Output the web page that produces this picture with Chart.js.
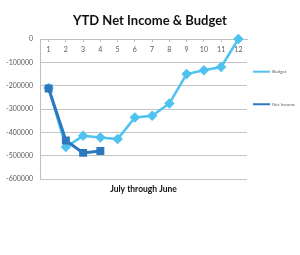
<!DOCTYPE html>
<html>
<head>
<meta charset="utf-8">
<script src="https://cdn.jsdelivr.net/npm/chart.js@4"></script>
<style>
  html, body { margin: 0; padding: 0; background: #fff; }
  #wrap { width: 300px; height: 255px; }
</style>
</head>
<body>
<div id="wrap"><canvas id="my-chart"></canvas></div>
<script>
const months = ['1', '2', '3', '4', '5', '6', '7', '8', '9', '10', '11', '12'];
const budget = [-210000, -463000, -415000, -422000, -429000, -336000, -329000, -276000, -150000, -134000, -120000, 0];
const netIncome = [-212000, -435000, -488000, -480000, null, null, null, null, null, null, null, null];
const yTicks = [0, -100000, -200000, -300000, -400000, -500000, -600000];

let ctx = document.getElementById('my-chart').getContext('2d');

const ytdChart = new Chart(ctx, {
    type: 'line',
    data: {
        labels: months,
        datasets: [{
            label: 'Budget',
            data: budget,
            borderColor: '#4fc3ef',
            backgroundColor: '#4fc3ef',
            borderWidth: 2.5,
            pointStyle: 'rectRot',
            pointRadius: 3.5,
            tension: 0,
            clip: false,
            order: 1
        }, {
            label: 'Net Income',
            data: netIncome,
            borderColor: '#2e78bd',
            backgroundColor: '#2e78bd',
            borderWidth: 3,
            pointStyle: 'rect',
            pointRadius: 3.5,
            tension: 0,
            clip: false,
            order: 0
        }]
    },
    options: {
        responsive: true,
        maintainAspectRatio: false,
        animation: false,
        layout: { padding: 0 },
        plugins: {
            title: {
                display: true,
                text: 'YTD Net Income & Budget',
                color: '#111',
                font: { family: 'Lato', size: 13, weight: 'bold' },
                padding: { top: 13.2, bottom: 10.2 }
            },
            subtitle: {
                display: true,
                position: 'bottom',
                fullSize: false,
                text: 'July through June',
                color: '#111',
                font: { family: 'Lato', size: 8.5, weight: 'bold' },
                padding: { top: 4.9, bottom: 60.9 }
            },
            legend: {
                position: 'right',
                align: 'start',
                maxWidth: 53,
                title: {
                    display: true,
                    text: '',
                    font: { size: 1, lineHeight: 1 },
                    padding: { top: 62.45, bottom: 0 }
                },
                labels: {
                    usePointStyle: true,
                    pointStyle: 'line',
                    pointStyleWidth: 17,
                    padding: 6,
                    color: '#595959',
                    font: { family: 'Lato', size: 4.5, lineHeight: 5.9 },
                    generateLabels: chart => {
                        const items = Chart.defaults.plugins.legend.labels.generateLabels(chart);
                        items.sort((a, b) => a.datasetIndex - b.datasetIndex);
                        items.forEach(it => { it.text = [it.text]; it.lineWidth = 2; });
                        return items;
                    }
                }
            },
            tooltip: { enabled: false }
        },
        scales: {
            x: {
                position: 'top',
                offset: true,
                grid: {
                    display: true,
                    drawOnChartArea: false,
                    drawTicks: true,
                    tickLength: -3,
                    color: '#bfbfbf'
                },
                border: { display: true, color: '#bfbfbf' },
                ticks: {
                    mirror: true,
                    padding: 6.8,
                    maxRotation: 0,
                    autoSkip: false,
                    color: '#595959',
                    font: { family: 'Lato', size: 7 }
                },
                afterFit: s => { s.height = 0; }
            },
            y: {
                min: -600000,
                max: 0,
                afterBuildTicks: s => { s.ticks = yTicks.map(v => ({ value: v })); },
                grid: {
                    drawTicks: false,
                    color: '#c4c4c4'
                },
                border: { display: true, color: '#bfbfbf' },
                ticks: {
                    padding: 7,
                    color: '#595959',
                    font: { family: 'Lato', size: 7 },
                    callback: v => String(v)
                },
                afterFit: s => { s.width = 40; }
            }
        }
    }
});
</script>
</body>
</html>
